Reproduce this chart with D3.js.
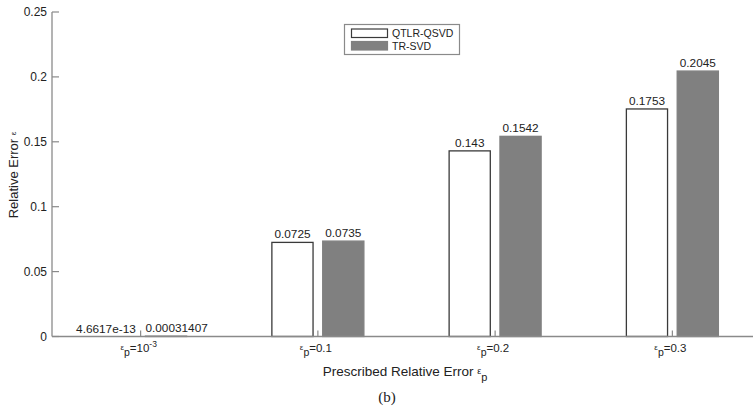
<!DOCTYPE html>
<html>
<head>
<meta charset="utf-8">
<script src="https://cdn.jsdelivr.net/npm/d3@7"></script>
<style>
  html, body { margin: 0; padding: 0; background: #fff; }
  svg { display: block; font-family: Arial, "Liberation Sans", sans-serif; }
</style>
</head>
<body>
<div id="chart"></div>
<script>
// Prescribed relative error groups (x tick labels: "ε_p" + text + optional superscript)
const tickText = ['=10', '=0.1', '=0.2', '=0.3'];
const tickSup = ['-3', '', '', ''];
const categories = ['1e-3', '0.1', '0.2', '0.3'];

const series = ['QTLR-QSVD', 'TR-SVD'];
const qtlrValues = [4.6617e-13, 0.0725, 0.143, 0.1753];
const trsvdValues = [0.00031407, 0.0735, 0.1542, 0.2045];
const qtlrLabels = ['4.6617e-13', '0.0725', '0.143', '0.1753'];
const trsvdLabels = ['0.00031407', '0.0735', '0.1542', '0.2045'];

const yTicks = [0, 0.05, 0.1, 0.15, 0.2, 0.25];
const yTickLabels = ['0', '0.05', '0.1', '0.15', '0.2', '0.25'];

const width = 753, height = 408;
const axisColor = '#8a8a8a';
const textColor = '#222';

const svg = d3.select('#chart').append('svg')
    .attr('width', width)
    .attr('height', height);

// scales
const x0 = d3.scaleBand().domain(categories).range([52, 761]);
const x1 = d3.scaleBand().domain(series).range([-46, 46]).paddingInner(0.19);
const y = d3.scaleLinear().domain([0, 0.25]).range([336.5, 12]);

const colors = { 'QTLR-QSVD': '#ffffff', 'TR-SVD': '#808080' };
const strokes = { 'QTLR-QSVD': '#3a3a3a', 'TR-SVD': '#808080' };

// y axis (ticks pointing inward)
svg.append('line')
    .attr('x1', 52).attr('x2', 52)
    .attr('y1', y(0.25)).attr('y2', y(0))
    .attr('stroke', axisColor).attr('stroke-width', 1.3);

const yt = svg.append('g').selectAll('g').data(yTicks).enter().append('g');
yt.append('line')
    .attr('x1', 52).attr('x2', 59)
    .attr('y1', d => y(d)).attr('y2', d => y(d))
    .attr('stroke', axisColor).attr('stroke-width', 1.2);
yt.append('text')
    .attr('x', 47).attr('y', d => y(d))
    .attr('dy', '0.35em')
    .attr('text-anchor', 'end')
    .attr('font-size', 12)
    .attr('fill', textColor)
    .text((d, i) => yTickLabels[i]);

// bars
const rows = categories.map((c, i) => ({
    cat: c,
    items: [
        { s: series[0], v: qtlrValues[i], label: qtlrLabels[i] },
        { s: series[1], v: trsvdValues[i], label: trsvdLabels[i] }
    ]
}));

const groups = svg.append('g').selectAll('g').data(rows).enter().append('g')
    .attr('transform', d => `translate(${x0(d.cat) + x0.bandwidth() / 2},0)`);

groups.selectAll('rect').data(d => d.items).enter().append('rect')
    .attr('x', d => x1(d.s))
    .attr('width', x1.bandwidth())
    .attr('y', d => y(d.v))
    .attr('height', d => y(0) - y(d.v))
    .attr('fill', d => colors[d.s])
    .attr('stroke', d => strokes[d.s])
    .attr('stroke-width', 1.3);

// value labels; if wider than the bar, align to the inner bar edge
groups.selectAll('text.val').data(d => d.items).enter().append('text')
    .attr('class', 'val')
    .attr('font-size', 11.8)
    .attr('fill', textColor)
    .attr('y', d => y(d.v) - 4)
    .text(d => d.label)
    .each(function(d, i) {
        const w = this.getComputedTextLength();
        const t = d3.select(this);
        if (w > x1.bandwidth()) {
            if (i === 0) t.attr('x', x1(d.s) + x1.bandwidth()).attr('text-anchor', 'end');
            else t.attr('x', x1(d.s)).attr('text-anchor', 'start');
        } else {
            t.attr('x', x1(d.s) + x1.bandwidth() / 2).attr('text-anchor', 'middle');
        }
    });

// x axis baseline and ticks
svg.append('line')
    .attr('x1', 52).attr('x2', width)
    .attr('y1', y(0)).attr('y2', y(0))
    .attr('stroke', axisColor).attr('stroke-width', 1.5);

svg.append('g').selectAll('line').data(categories).enter().append('line')
    .attr('x1', d => x0(d) + x0.bandwidth() / 2)
    .attr('x2', d => x0(d) + x0.bandwidth() / 2)
    .attr('y1', y(0)).attr('y2', y(0) - 6)
    .attr('stroke', axisColor).attr('stroke-width', 1.2);

const xl = svg.append('g').selectAll('text').data(categories).enter().append('text')
    .attr('x', d => x0(d) + x0.bandwidth() / 2 - 2)
    .attr('y', 352)
    .attr('text-anchor', 'middle')
    .attr('font-size', 11.5)
    .attr('fill', textColor);
xl.append('tspan').attr('font-size', 8).attr('dy', -2).text('ε');
xl.append('tspan').attr('font-size', 10.5).attr('dy', 6).text('p');
xl.append('tspan').attr('dy', -4).text((d, i) => tickText[i]);
xl.filter((d, i) => tickSup[i] !== '')
    .append('tspan').attr('font-size', 8.5).attr('dy', -5).text((d, i) => tickSup[categories.indexOf(d)]);

// axis titles
const xt = svg.append('text')
    .attr('x', 405).attr('y', 376)
    .attr('text-anchor', 'middle')
    .attr('font-size', 13.5)
    .attr('fill', textColor);
xt.append('tspan').text('Prescribed Relative Error ');
xt.append('tspan').attr('font-size', 9).attr('dy', -2).text('ε');
xt.append('tspan').attr('font-size', 11).attr('dy', 7).text('p');

const yl = svg.append('text')
    .attr('transform', 'translate(18,175) rotate(-90)')
    .attr('text-anchor', 'middle')
    .attr('font-size', 13)
    .attr('fill', textColor);
yl.append('tspan').text('Relative Error ');
yl.append('tspan').attr('font-size', 8).attr('dy', -2).text('ε');

svg.append('text')
    .attr('x', 387).attr('y', 402)
    .attr('text-anchor', 'middle')
    .attr('font-family', '"Liberation Serif", "DejaVu Serif", serif')
    .attr('font-size', 15)
    .attr('fill', textColor)
    .text('(b)');

// legend
const legend = svg.append('g');
legend.append('rect')
    .attr('x', 344.5).attr('y', 24.5)
    .attr('width', 115).attr('height', 30)
    .attr('fill', '#fff')
    .attr('stroke', axisColor).attr('stroke-width', 1.2);
series.forEach((s, i) => {
    legend.append('rect')
        .attr('x', 351.5).attr('y', 29 + i * 12.5)
        .attr('width', 36).attr('height', 8.5)
        .attr('fill', colors[s])
        .attr('stroke', strokes[s]).attr('stroke-width', 1.2);
    legend.append('text')
        .attr('x', 392).attr('y', 33.5 + i * 12.5)
        .attr('dy', '0.35em')
        .attr('font-size', 10.5)
        .attr('fill', textColor)
        .text(s);
});
</script>
</body>
</html>
